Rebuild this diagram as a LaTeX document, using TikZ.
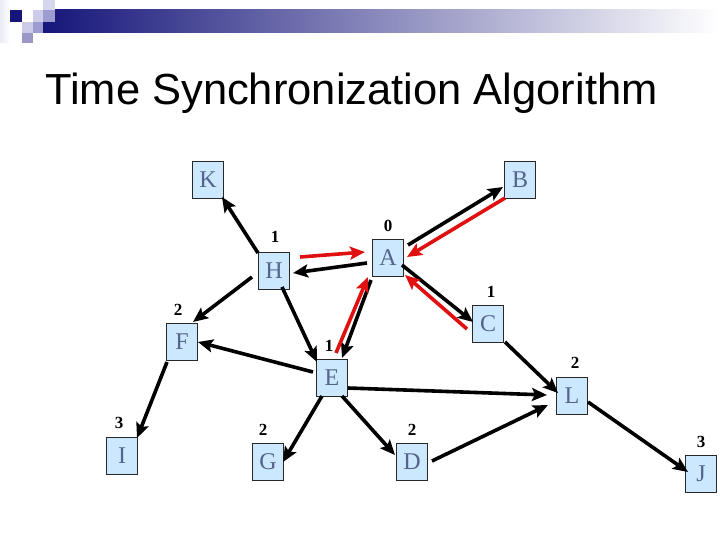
\documentclass[tikz,border=0pt]{standalone}
\usepackage{fontspec}
\setmainfont{Liberation Serif}
\newfontfamily\titlefont{Liberation Sans}
\usetikzlibrary{arrows.meta,calc}
\definecolor{navy}{RGB}{22,22,122}
\definecolor{midgray}{RGB}{150,150,180}
\definecolor{lav1}{RGB}{204,204,234}
\definecolor{lav2}{RGB}{156,156,208}
\definecolor{boxfill}{RGB}{204,232,255}
\definecolor{boxborder}{RGB}{40,40,40}
\definecolor{lettercol}{RGB}{84,100,140}
\definecolor{arrred}{RGB}{224,16,16}
\begin{document}
\begin{tikzpicture}[x=1pt,y=-1pt,
  box/.style={draw=boxborder, fill=boxfill, line width=0.9pt, minimum width=31pt,
    minimum height=37pt, inner sep=0pt, text=lettercol, font=\fontsize{24}{24}\selectfont},
  num/.style={font=\bfseries\fontsize{17}{17}\selectfont, inner sep=0pt},
  blk/.style={line width=3.6pt, -{Stealth[length=15pt,width=13pt,inset=3pt]}},
  redarrow/.style={line width=3.6pt, draw=arrred, -{Stealth[length=15pt,width=13pt,inset=3pt]}}]
\useasboundingbox (0,0) rectangle (720,540);
\fill[white] (0,0) rectangle (720,540);
% header decoration
\shade[left color=lav1!40, right color=white] (0,0) rectangle (10,43);
\shade[left color=navy, middle color=midgray, right color=white] (43,10) rectangle (720,33);
\fill[navy] (10,10) rectangle (22,22);
\fill[lav1] (33,10) rectangle (43,22);
\fill[lav1!80] (43,0) rectangle (55,10);
\fill[lav2] (43,10) rectangle (55,22);
\fill[lav1] (22,22) rectangle (33,33);
\fill[lav2] (33,22) rectangle (43,33);
\fill[lav2!90!gray] (22,33) rectangle (33,43);
% title
\node[anchor=base west, inner sep=0pt, font=\titlefont\fontsize{43.5}{43.5}\selectfont] (title) at (45,105) {Time Synchronization Algorithm};
% nodes
\node[box] (K) at (208,180) {K};
\node[box] (B) at (520,180) {B};
\node[box] (A) at (388,258) {A};
\node[box] (H) at (274,271) {H};
\node[box] (F) at (182,342) {F};
\node[box] (E) at (332,378) {E};
\node[box] (C) at (488,324) {C};
\node[box] (L) at (572,396) {L};
\node[box] (I) at (122,456) {I};
\node[box] (G) at (268,462) {G};
\node[box] (D) at (412,462) {D};
\node[box] (J) at (701,474) {J};
% numbers
\node[num] (nA) at (388,226) {0};
\node[num] (nH) at (275,237) {1};
\node[num] (nC) at (491,292) {1};
\node[num] (nF) at (178,310) {2};
\node[num] (nE) at (329,346) {1};
\node[num] (nL) at (575,363) {2};
\node[num] (nI) at (119,423) {3};
\node[num] (nG) at (263,430) {2};
\node[num] (nD) at (412,430) {2};
\node[num] (nJ) at (701,442) {3};
% connectors
\draw[blk] ($(H)+(-16,-18)$) -- ($(K)+(14,17)$);
\draw[blk] ($(A)+(20,-13)$) -- ($(B)+(-17,7)$);
\draw[redarrow] ($(B)+(-15,18)$) -- ($(A)+(19,-1)$);
\draw[redarrow] ($(H)+(26,-14)$) -- ($(A)+(-23,-6)$);
\draw[blk] ($(A)+(-21,5)$) -- ($(H)+(19,2)$);
\draw[blk] ($(A)+(14,7)$) -- ($(C)+(-15,-2)$);
\draw[redarrow] ($(C)+(-21,5)$) -- ($(A)+(17,17)$);
\draw[blk] ($(A)+(-17,22)$) -- ($(E)+(10,-20)$);
\draw[redarrow] ($(E)+(4,-25)$) -- ($(A)+(-20,19)$);
\draw[blk] ($(H)+(-22,6)$) -- ($(F)+(11,-20)$);
\draw[blk] ($(H)+(8,16)$) -- ($(E)+(-15,-16)$);
\draw[blk] ($(E)+(-19,-6)$) -- ($(F)+(16,0)$);
\draw[blk] ($(F)+(-15,20)$) -- ($(I)+(15,-18)$);
\draw[blk] ($(E)+(16,10)$) -- ($(L)+(-25,-1)$);
\draw[blk] ($(C)+(17,18)$) -- ($(L)+(-14,-3)$);
\draw[blk] ($(E)+(-10,18)$) -- ($(G)+(15,0)$);
\draw[blk] ($(E)+(10,18)$) -- ($(D)+(-17,-7)$);
\draw[blk] ($(D)+(20,-1)$) -- ($(L)+(-24,9)$);
\draw[blk] ($(L)+(16,6)$) -- ($(J)+(-13,-2)$);
\end{tikzpicture}
\end{document}
